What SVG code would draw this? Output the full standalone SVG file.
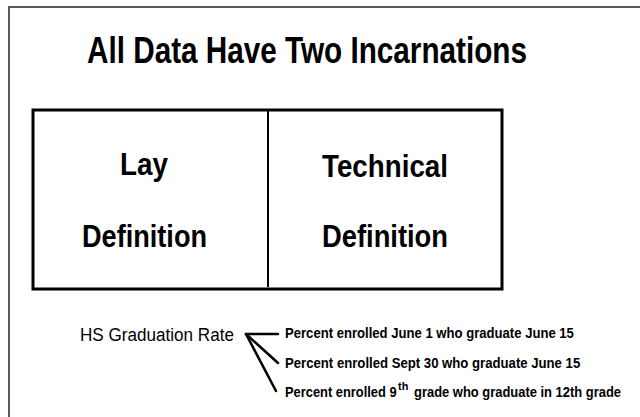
<svg xmlns="http://www.w3.org/2000/svg" width="640" height="417" viewBox="0 0 640 417">
  <style>
    .frame { fill: none; stroke: #5a5a5a; stroke-width: 2; }
    .box { fill: #ffffff; stroke: #000000; stroke-width: 3; }
    .divider { stroke: #000000; stroke-width: 2; }
    .title { font-family: "Liberation Sans", Arial, sans-serif; font-weight: bold; font-size: 37px; fill: #000; }
    .cell { font-family: "Liberation Sans", Arial, sans-serif; font-weight: bold; font-size: 32px; fill: #000; }
    .term { font-family: "Liberation Sans", Arial, sans-serif; font-size: 19px; fill: #000; }
    .def { font-family: "Liberation Sans", Arial, sans-serif; font-weight: bold; font-size: 14px; fill: #000; }
    .sup { font-family: "Liberation Sans", Arial, sans-serif; font-weight: bold; font-size: 11px; fill: #000; }
    .link { stroke: #000000; stroke-width: 2.5; fill: none; stroke-linecap: round; }
  </style>

  <rect width="640" height="417" fill="#ffffff"/>
  <!-- outer slide frame: only the top and left edges fall inside the page -->
  <path class="frame" d="M9,417 V7 H640"/>

  <g id="title">
    <text class="title" x="87" y="63" textLength="440" lengthAdjust="spacingAndGlyphs">All Data Have Two Incarnations</text>
  </g>

  <g id="table">
    <rect class="box" x="33" y="110" width="469" height="179"/>
    <line class="divider" x1="268" y1="110" x2="268" y2="287"/>
  </g>

  <g id="lay-definition">
    <text class="cell" x="120" y="175" textLength="48" lengthAdjust="spacingAndGlyphs">Lay</text>
    <text class="cell" x="82" y="247" textLength="125" lengthAdjust="spacingAndGlyphs">Definition</text>
  </g>

  <g id="technical-definition">
    <text class="cell" x="322" y="177" textLength="126" lengthAdjust="spacingAndGlyphs">Technical</text>
    <text class="cell" x="322" y="247" textLength="126" lengthAdjust="spacingAndGlyphs">Definition</text>
  </g>

  <g id="hs-graduation-rate">
    <text class="term" transform="translate(80,341) scale(0.9,1)" textLength="171" lengthAdjust="spacingAndGlyphs">HS Graduation Rate</text>
  </g>

  <g id="connectors">
    <line class="link" x1="246" y1="334" x2="278" y2="334"/>
    <line class="link" x1="246" y1="334" x2="278" y2="363"/>
    <line class="link" x1="246" y1="334" x2="276" y2="391"/>
  </g>

  <!-- condensed bold definitions: scaled 0.9 horizontally, textLength in local units -->
  <g id="def-june1">
    <text class="def" transform="translate(285,338) scale(0.9,1)" textLength="321" lengthAdjust="spacingAndGlyphs">Percent enrolled June 1 who graduate June 15</text>
  </g>
  <g id="def-sept30">
    <text class="def" transform="translate(285,368) scale(0.9,1)" textLength="328" lengthAdjust="spacingAndGlyphs">Percent enrolled Sept 30 who graduate June 15</text>
  </g>
  <g id="def-9th">
    <text class="def" transform="translate(285,397) scale(0.9,1)" textLength="124" lengthAdjust="spacingAndGlyphs">Percent enrolled 9</text>
    <text class="sup" x="398" y="390">th</text>
    <text class="def" transform="translate(414,397) scale(0.9,1)" textLength="230" lengthAdjust="spacingAndGlyphs">grade who graduate in 12th grade</text>
  </g>
</svg>
